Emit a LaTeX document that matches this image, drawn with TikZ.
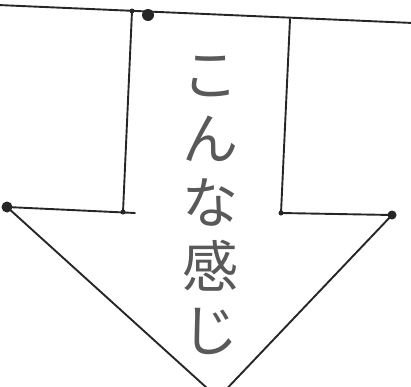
\documentclass[tikz,border=0pt]{standalone}
\usepackage{fontspec}
\newfontfamily\cjk{Noto Sans CJK JP}
\begin{document}
\begin{tikzpicture}[x=1pt,y=-1pt,
  pen/.style={line width=1.9pt,black!85,line cap=round,line join=round},
  blob/.style={circle,fill=black!85,inner sep=0pt,minimum size=#1},
  hand/.style={font=\cjk\fontsize{56}{64}\selectfont,text=black!65,align=center,inner sep=0pt}]
\useasboundingbox (0,0) rectangle (411,386);
\clip (0,0) rectangle (411,386);
\coordinate (tl) at (-2,5);
\coordinate (tr) at (413,23);
\coordinate (lvt) at (132,11);
\coordinate (lvb) at (123,212);
\coordinate (rvt) at (290,19);
\coordinate (rvb) at (281,213);
\coordinate (lw) at (7,207);
\coordinate (lwe) at (135,213);
\coordinate (rw) at (392,215);
\coordinate (apex) at (218,398);
\draw[pen] (tl) -- (tr);
\draw[pen] (lvt) -- (lvb);
\draw[pen] (rvt) -- (rvb);
\draw[pen] (lw) -- (lwe);
\draw[pen] (rvb) -- (rw);
\draw[pen] (lw) -- (apex) -- (rw);
\node[blob=12pt] (d1) at (148,15) {};
\node[blob=11pt] (d2) at (lw) {};
\node[blob=9pt] (d3) at (rw) {};
\node[blob=5pt] (d4) at (lvt) {};
\node[blob=5pt] (d5) at (123,212) {};
\node[blob=5pt] (d6) at (rvb) {};
\node[hand] (txt) at (210,205) {こ\\ん\\な\\感\\じ};
\end{tikzpicture}
\end{document}
